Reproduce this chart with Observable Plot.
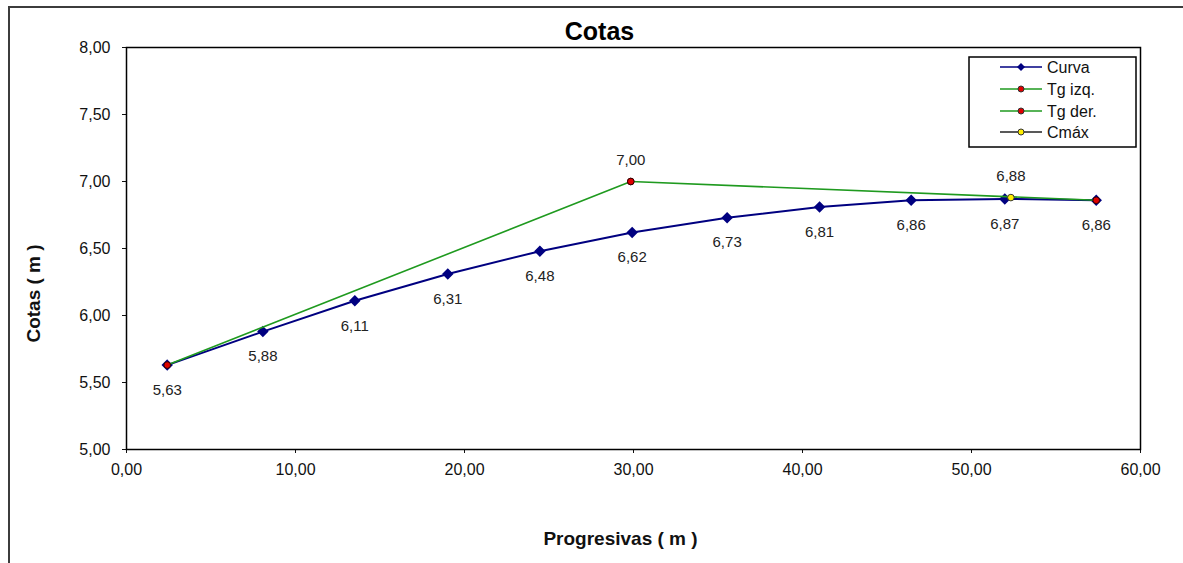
<!DOCTYPE html>
<html>
<head>
<meta charset="utf-8">
<script src="https://cdn.jsdelivr.net/npm/d3@7"></script>
<script src="https://cdn.jsdelivr.net/npm/@observablehq/plot@0.6"></script>
<style>
  html, body { margin: 0; padding: 0; background: #fff; overflow: hidden; }
  #wrap { position: relative; width: 1183px; height: 563px; font-family: "Liberation Sans", Arial, sans-serif; }
  #outer { position: absolute; left: 8px; top: 6px; width: 1300px; height: 700px; border: 2px solid #3c3c3c; pointer-events: none; }
  #chart { position: absolute; left: 0; top: 0; }
</style>
</head>
<body>
<div id="wrap"><div id="chart"></div><div id="outer"></div></div>
<script>
// ---- data ----
const xTicks = [0, 10, 20, 30, 40, 50, 60];
const yTicks = [5, 5.5, 6, 6.5, 7, 7.5, 8];

const curvaX = [2.41, 8.07, 13.51, 19.01, 24.46, 29.92, 35.54, 41.01, 46.43, 51.97, 57.38];
const curvaY = [5.63, 5.88, 6.11, 6.31, 6.48, 6.62, 6.73, 6.81, 6.86, 6.87, 6.86];

const tgIzqX = [2.41, 29.84];
const tgIzqY = [5.63, 7.00];

const tgDerX = [29.84, 57.38];
const tgDerY = [7.00, 6.86];

const cmaxX = [52.33];
const cmaxY = [6.88];

const seriesNames = ["Curva", "Tg izq.", "Tg der.", "Cmáx"];
const titleText = "Cotas";
const xLabel = "Progresivas ( m )";
const yLabel = "Cotas ( m )";

// ---- build tables ----
const zip = (xs, ys) => xs.map((x, i) => ({x, y: ys[i]}));
const curva = zip(curvaX, curvaY);
const tgIzq = zip(tgIzqX, tgIzqY);
const tgDer = zip(tgDerX, tgDerY);
const cmax = zip(cmaxX, cmaxY);
const pi = [tgIzq[1]];

const fmt = d => d.toFixed(2).replace(".", ",");

const navy = "#000080";
const green = "#1f9a1f";

const chart = Plot.plot({
  width: 1183,
  height: 563,
  marginLeft: 126,
  marginRight: 43,
  marginTop: 47,
  marginBottom: 114,
  x: {domain: [0, 60]},
  y: {domain: [5, 8]},
  style: {fontFamily: "'Liberation Sans', Arial, sans-serif", fontSize: "16px", color: "#111", background: "transparent", overflow: "visible"},
  marks: [
    Plot.axisX({ticks: xTicks, tickFormat: fmt, tickSize: 4, tickPadding: 10, label: null, fontSize: 16}),
    Plot.axisY({ticks: yTicks, tickFormat: fmt, tickSize: 4, tickPadding: 12, label: null, fontSize: 16}),
    Plot.frame({stroke: "#000", strokeWidth: 1.5}),
    // Curva
    Plot.line(curva, {x: "x", y: "y", stroke: navy, strokeWidth: 2}),
    Plot.dot(curva, {x: "x", y: "y", symbol: "diamond2", r: 4.2, fill: navy, stroke: navy}),
    Plot.text(curva, {x: "x", y: "y", text: d => fmt(d.y), dy: 25, fontSize: 15, fill: "#222"}),
    // Tg izq.
    Plot.line(tgIzq, {x: "x", y: "y", stroke: green, strokeWidth: 1.6}),
    Plot.dot(tgIzq, {x: "x", y: "y", r: 3.3, fill: "#e00000", stroke: "#300", strokeWidth: 1}),
    // Tg der.
    Plot.line(tgDer, {x: "x", y: "y", stroke: green, strokeWidth: 1.6}),
    Plot.dot(tgDer, {x: "x", y: "y", r: 3.3, fill: "#e00000", stroke: "#300", strokeWidth: 1}),
    Plot.text(pi, {x: "x", y: "y", text: d => fmt(d.y), dy: -21, fontSize: 15, fill: "#222"}),
    // Cmáx
    Plot.dot(cmax, {x: "x", y: "y", r: 3.3, fill: "#ffee00", stroke: "#333", strokeWidth: 1}),
    Plot.text(cmax, {x: "x", y: "y", text: d => fmt(d.y), dy: -21, fontSize: 15, fill: "#222"}),
    // titles
    Plot.text([titleText], {frameAnchor: "top", lineAnchor: "middle", textAnchor: "middle", text: d => d, dx: -34, dy: -16, fontSize: 25, fontWeight: "bold", fill: "#000"}),
    Plot.text([xLabel], {frameAnchor: "bottom", lineAnchor: "middle", textAnchor: "middle", text: d => d, dx: -13, dy: 89, fontSize: 19, fontWeight: "bold", fill: "#111"}),
    Plot.text([yLabel], {frameAnchor: "left", lineAnchor: "middle", textAnchor: "middle", text: d => d, dx: -93, dy: 45, rotate: -90, fontSize: 19, fontWeight: "bold", fill: "#111"})
  ]
});
document.getElementById("chart").appendChild(chart);

// ---- legend (inside plot area, top-right) ----
const svg = d3.select(chart);
const lg = svg.append("g").attr("font-family", "'Liberation Sans', Arial, sans-serif").attr("text-anchor", "start");
lg.append("rect").attr("x", 969).attr("y", 57).attr("width", 167).attr("height", 90)
  .attr("fill", "#fff").attr("stroke", "#000").attr("stroke-width", 1.5);
const rows = [
  {name: seriesNames[0], line: navy, mark: "diamond"},
  {name: seriesNames[1], line: green, mark: "red"},
  {name: seriesNames[2], line: green, mark: "red"},
  {name: seriesNames[3], line: "#222", mark: "yellow"}
];
const rowY = [67, 89, 111, 132];
rows.forEach((r, i) => {
  const y = rowY[i];
  lg.append("line").attr("x1", 1000).attr("x2", 1042).attr("y1", y).attr("y2", y)
    .attr("stroke", r.line).attr("stroke-width", 1.6);
  if (r.mark === "diamond") {
    lg.append("path").attr("d", `M1021,${y-4}L1025,${y}L1021,${y+4}L1017,${y}Z`).attr("fill", navy);
  } else {
    lg.append("circle").attr("cx", 1021).attr("cy", y).attr("r", 3)
      .attr("fill", r.mark === "red" ? "#e00000" : "#ffee00").attr("stroke", "#333").attr("stroke-width", 1);
  }
  lg.append("text").attr("x", 1047).attr("y", y).attr("dy", "0.35em").attr("text-anchor", "start")
    .attr("font-size", 16).attr("fill", "#111").text(r.name);
});
</script>
</body>
</html>
